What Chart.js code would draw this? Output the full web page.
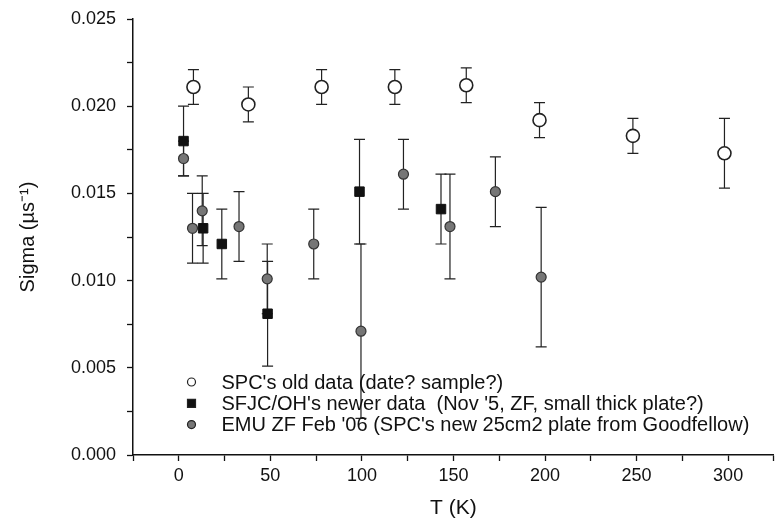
<!DOCTYPE html>
<html>
<head>
<meta charset="utf-8">
<script src="https://cdn.jsdelivr.net/npm/chart.js@4.4.1/dist/chart.umd.min.js"></script>
<style>
  html, body { margin: 0; padding: 0; background: #fff; }
  #wrap { width: 782px; height: 522px; }
</style>
</head>
<body>
<div id="wrap"><canvas id="sigmaChart" width="782" height="522"></canvas></div>
<script>
// SPC's old data
const oldT = [8, 38, 78, 118, 157, 197, 248, 298];
const oldSigma = [0.0211, 0.0201, 0.0211, 0.0211, 0.0212, 0.0192, 0.0183, 0.0173];
const oldErr = [0.001, 0.001, 0.001, 0.001, 0.001, 0.001, 0.001, 0.002];

// SFJC/OH's newer data
const newT = [2.6, 13.3, 23.5, 48.5, 98.7, 143.2];
const newSigma = [0.0180, 0.0130, 0.0121, 0.0081, 0.0151, 0.0141];
const newErr = [0.002, 0.002, 0.002, 0.003, 0.003, 0.002];

// EMU ZF Feb '06
const emuT = [2.6, 7.5, 12.8, 32.9, 48.3, 73.7, 99.5, 122.7, 148.1, 172.9, 197.9];
const emuSigma = [0.0170, 0.0130, 0.0140, 0.0131, 0.0101, 0.0121, 0.0071, 0.0161, 0.0131, 0.0151, 0.0102];
const emuErr = [0.001, 0.002, 0.002, 0.002, 0.002, 0.002, 0.005, 0.002, 0.003, 0.002, 0.004];

const seriesLabels = [
  "SPC's old data (date? sample?)",
  "SFJC/OH's newer data  (Nov '5, ZF, small thick plate?)",
  "EMU ZF Feb '06 (SPC's new 25cm2 plate from Goodfellow)"
];

const xTicks = [0, 50, 100, 150, 200, 250, 300];
const yTicks = [0, 0.005, 0.01, 0.015, 0.02, 0.025];

const toPoints = (xs, ys, es) => xs.map((x, i) => ({ x: x, y: ys[i], err: es[i] }));

const FONT = "'Liberation Sans', Arial, sans-serif";

// vertical error bars with caps, drawn under the markers
const errorBars = {
  id: 'errorBars',
  beforeDatasetsDraw(chart) {
    const ctx = chart.ctx;
    const xs = chart.scales.x, ys = chart.scales.y;
    ctx.save();
    ctx.strokeStyle = '#222';
    ctx.lineWidth = 1.2;
    chart.data.datasets.forEach(ds => {
      ds.data.forEach(p => {
        const px = xs.getPixelForValue(p.x);
        const top = ys.getPixelForValue(p.y + p.err);
        const bot = ys.getPixelForValue(p.y - p.err);
        ctx.beginPath();
        ctx.moveTo(px, top); ctx.lineTo(px, bot);
        ctx.moveTo(px - 5.5, top); ctx.lineTo(px + 5.5, top);
        ctx.moveTo(px - 5.5, bot); ctx.lineTo(px + 5.5, bot);
        ctx.stroke();
      });
    });
    ctx.restore();
  }
};

// legend sits inside the plot, lower left
const insideLegend = {
  id: 'insideLegend',
  afterDraw(chart) {
    const ctx = chart.ctx;
    const area = chart.chartArea;
    const x0 = area.left + 58.5;
    const y0 = area.bottom - 73;
    ctx.save();
    ctx.font = '20px ' + FONT;
    ctx.textBaseline = 'middle';
    chart.data.datasets.forEach((ds, i) => {
      const y = y0 + i * 21.3;
      ctx.lineWidth = 1.2;
      ctx.strokeStyle = '#222';
      ctx.beginPath();
      if (ds.pointStyle === 'rect') {
        ctx.rect(x0 - 4, y - 4, 8, 8);
      } else {
        ctx.arc(x0, y, 4, 0, Math.PI * 2);
      }
      ctx.fillStyle = ds.backgroundColor;
      ctx.fill();
      ctx.stroke();
      ctx.fillStyle = '#111';
      ctx.fillText(ds.label, x0 + 30, y + 1);
    });
    ctx.restore();
  }
};

new Chart(document.getElementById('sigmaChart'), {
  type: 'scatter',
  data: {
    datasets: [
      {
        label: seriesLabels[0],
        data: toPoints(oldT, oldSigma, oldErr),
        pointStyle: 'circle',
        pointRadius: 6.5,
        backgroundColor: '#ffffff',
        borderColor: '#222',
        borderWidth: 1.6
      },
      {
        label: seriesLabels[1],
        data: toPoints(newT, newSigma, newErr),
        pointStyle: 'rect',
        pointRadius: 6.7,
        backgroundColor: '#111111',
        borderColor: '#111',
        borderWidth: 1
      },
      {
        label: seriesLabels[2],
        data: toPoints(emuT, emuSigma, emuErr),
        pointStyle: 'circle',
        pointRadius: 5,
        backgroundColor: '#767676',
        borderColor: '#333',
        borderWidth: 1.2
      }
    ]
  },
  options: {
    responsive: false,
    animation: false,
    layout: { padding: { left: 0, right: 5, top: 19, bottom: 0 } },
    plugins: {
      legend: { display: false },
      tooltip: { enabled: false }
    },
    scales: {
      x: {
        type: 'linear',
        min: -25,
        max: 325,
        afterFit: s => { s.height = 67; },
        afterBuildTicks: s => {
          const t = [];
          for (let v = -25; v <= 325; v += 25) t.push({ value: v });
          s.ticks = t;
        },
        border: { color: '#111', width: 1.5 },
        grid: { drawOnChartArea: false, tickLength: 6, tickColor: '#111', tickWidth: 1.3 },
        ticks: {
          color: '#111',
          font: { family: FONT, size: 18 },
          padding: 4,
          maxRotation: 0,
          autoSkip: false,
          callback: v => xTicks.includes(v) ? String(v) : ''
        },
        title: {
          display: true,
          text: 'T (K)',
          color: '#111',
          font: { family: FONT, size: 21 },
          padding: { top: 0, bottom: 1 }
        }
      },
      y: {
        type: 'linear',
        min: 0,
        max: 0.025,
        afterFit: s => {
          s.width = 133;
          // the wide tick padding should not push the plot top down
          s.paddingTop = 10;
          s.paddingBottom = 10;
        },
        afterBuildTicks: s => {
          const t = [];
          for (let k = 0; k <= 10; k++) t.push({ value: k * 0.0025 });
          s.ticks = t;
        },
        border: { color: '#111', width: 1.5 },
        grid: { drawOnChartArea: false, tickLength: 6, tickColor: '#111', tickWidth: 1.3 },
        ticks: {
          color: '#111',
          font: { family: FONT, size: 18 },
          padding: 11,
          autoSkip: false,
          callback: v => {
            const hit = yTicks.find(t => Math.abs(t - v) < 1e-9);
            return hit !== undefined ? hit.toFixed(3) : '';
          }
        },
        title: {
          display: true,
          text: 'Sigma (\u00b5s\u207b\u00b9)',
          color: '#111',
          font: { family: FONT, size: 20 },
          padding: { top: 16, bottom: 0 }
        }
      }
    }
  },
  plugins: [errorBars, insideLegend]
});
</script>
</body>
</html>
